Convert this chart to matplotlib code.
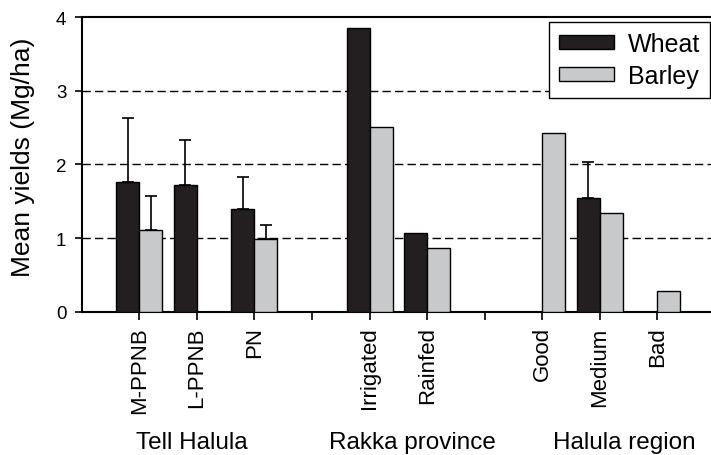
import numpy as np
import matplotlib
matplotlib.use("Agg")
import matplotlib.pyplot as plt
import matplotlib.transforms as mtransforms

plt.rcParams['font.family'] = ['Liberation Sans', 'DejaVu Sans']

categories = ["M-PPNB", "L-PPNB", "PN", "", "Irrigated", "Rainfed", "", "Good", "Medium", "Bad"]
nan = np.nan
wheat = [1.76, 1.72, 1.39, nan, 3.85, 1.07, nan, nan, 1.54, nan]
wheat_err = [0.87, 0.61, 0.44, nan, nan, nan, nan, nan, 0.49, nan]
barley = [1.11, nan, 0.99, nan, 2.51, 0.87, nan, 2.42, 1.34, 0.28]
barley_err = [0.46, nan, 0.19, nan, nan, nan, nan, nan, nan, nan]
groups = ["Tell Halula", "Rakka province", "Halula region"]
group_x = [0.91, 4.74, 8.43]

W, H = 711, 456
fig = plt.figure(figsize=(W / 100, H / 100), dpi=100)
left_px, right_px = 81.7, 715.0
ax = fig.add_axes([left_px / W, 1 - 312.7 / H, (right_px - left_px) / W, (312.7 - 18) / H])

x = np.arange(len(categories))
bw = 0.40
wheat_c = "#231f20"
barley_c = "#c8c9cb"

ax.bar(x - bw / 2, wheat, bw, color=wheat_c, edgecolor="black", linewidth=1.0,
       label="Wheat", zorder=3)
ax.bar(x + bw / 2, barley, bw, color=barley_c, edgecolor="black", linewidth=1.0,
       label="Barley", zorder=3)

w = np.array(wheat)
we = np.array(wheat_err)
m = ~np.isnan(we)
ax.errorbar(x[m] - bw / 2, w[m], yerr=[np.zeros(m.sum()), we[m]], fmt="none",
            ecolor="black", elinewidth=1.2, capsize=4, capthick=1.2, zorder=2)
b = np.array(barley)
be = np.array(barley_err)
m = ~np.isnan(be)
ax.errorbar(x[m] + bw / 2, b[m], yerr=[np.zeros(m.sum()), be[m]], fmt="none",
            ecolor="black", elinewidth=1.2, capsize=4, capthick=1.2, zorder=2)

for yv in [1, 2, 3]:
    ax.axhline(yv, color="black", linestyle=(0, (6, 3)), linewidth=1.0, zorder=1)

ax.set_xlim(-1.0, 10.0)
ax.set_ylim(0, 4)
ax.set_yticks([0, 1, 2, 3, 4])
ax.set_xticks(x)
ax.set_xticklabels(categories, rotation=90, fontsize=16)
ax.tick_params(axis="y", labelsize=13.5, length=5, width=1.2, pad=6)
ax.tick_params(axis="x", length=5.5, width=1.2, pad=5)
ax.spines["right"].set_visible(False)
for s in ["left", "bottom", "top"]:
    ax.spines[s].set_linewidth(1.5)

fig.text(23 / W, 1 - 157 / H, "Mean yields (Mg/ha)", rotation=90,
         ha="center", va="center", fontsize=19)

trans = mtransforms.blended_transform_factory(ax.transData, fig.transFigure)
for gx, g in zip(group_x, groups):
    ax.text(gx, 1 - 449 / H, g, transform=trans, ha="center", va="baseline",
            fontsize=17.5)

leg = ax.legend(loc="upper right", bbox_to_anchor=(710 / W, 1 - 22.7 / H),
                bbox_transform=fig.transFigure, fontsize=18, frameon=True,
                fancybox=False, edgecolor="black", framealpha=1,
                handlelength=2.2, handleheight=0.5, borderpad=0.4,
                labelspacing=0.32, handletextpad=0.55, borderaxespad=0)
leg.get_frame().set_linewidth(1.0)

fig.savefig("out.png", dpi=100)
